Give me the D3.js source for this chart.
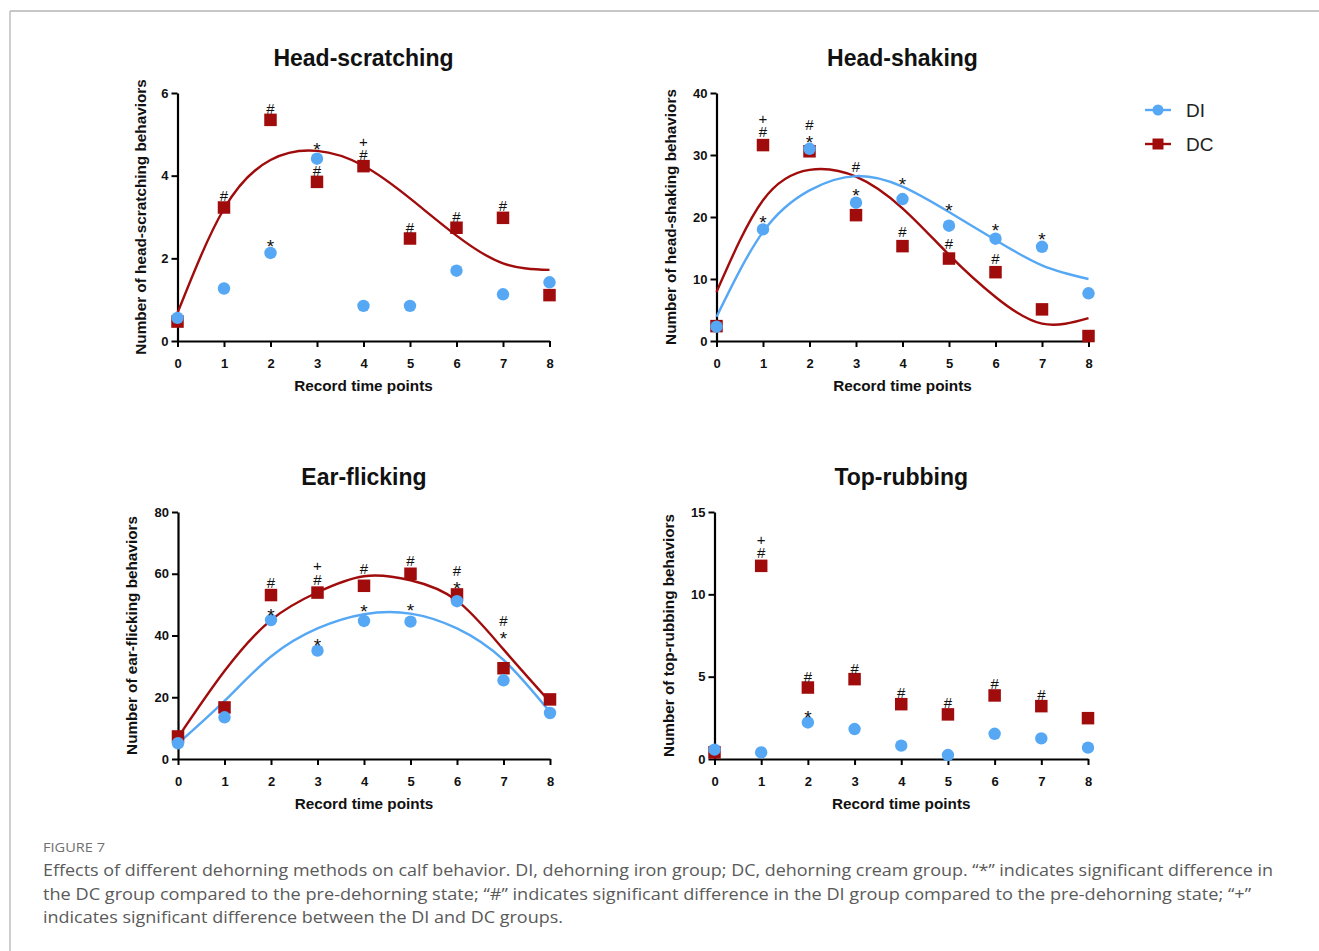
<!DOCTYPE html>
<html>
<head>
<meta charset="utf-8">
<script src="https://cdn.jsdelivr.net/npm/d3@7"></script>
<style>
  body { margin: 0; background: #fff; }
  svg { display: block; }
</style>
</head>
<body>
<div id="chart"></div>
<script>
// time points shared by all panels
const timePoints = [0, 1, 2, 3, 4, 5, 6, 7, 8];

// Head-scratching
const scratchDI = [0.56, 1.27, 2.13, 4.41, 0.85, 0.85, 1.70, 1.13, 1.42];
const scratchDC = [0.47, 3.23, 5.35, 3.85, 4.23, 2.48, 2.74, 2.98, 1.11];
const scratchFitDC = [0.68, 3.20, 4.38, 4.60, 4.24, 3.45, 2.55, 1.88, 1.72];
const scratchTicks = [0, 2, 4, 6];
// [time point, value of lowest symbol, symbols stacked bottom to top]
const scratchMarks = [
  [1, 3.50, "#"], [2, 5.62, "#"], [2, 2.38, "*"], [3, 4.73, "*"], [3, 4.11, "#"],
  [4, 4.49, "#+"], [5, 2.74, "#"], [6, 3.00, "#"], [7, 3.27, "#"]
];

// Head-shaking
const shakeDI = [2.3, 18.0, 31.0, 22.3, 22.9, 18.6, 16.5, 15.2, 7.7];
const shakeDC = [2.4, 31.6, 30.6, 20.3, 15.3, 13.3, 11.1, 5.1, 0.8];
const shakeFitDI = [3.9, 17.6, 24.3, 26.6, 24.9, 20.8, 16.3, 12.2, 10.0];
const shakeFitDC = [7.9, 22.7, 27.6, 26.5, 21.4, 13.9, 7.1, 2.8, 3.7];
const shakeTicks = [0, 10, 20, 30, 40];
const shakeMarks = [
  [1, 33.7, "#+"], [1, 19.8, "*"], [2, 32.6, "*#"], [3, 24.1, "*"], [3, 28.1, "#"],
  [4, 25.9, "*"], [4, 17.6, "#"], [5, 21.7, "*"], [5, 15.6, "#"], [6, 18.4, "*"],
  [6, 13.2, "#"], [7, 17.0, "*"]
];

// Ear-flicking
const earDI = [5.1, 13.5, 45.0, 35.1, 44.7, 44.5, 51.1, 25.5, 14.9];
const earDC = [7.3, 16.7, 53.1, 53.9, 56.1, 60.0, 53.3, 29.4, 19.3];
const earFitDI = [5.0, 18.8, 33.2, 42.3, 46.9, 47.1, 42.3, 32.1, 15.2];
const earFitDC = [7.0, 28.5, 45.0, 54.0, 59.2, 57.9, 51.3, 35.5, 18.5];
const earTicks = [0, 20, 40, 60, 80];
const earMarks = [
  [2, 57.1, "#"], [2, 47.7, "*"], [3, 58.1, "#+"], [3, 38.0, "*"],
  [4, 61.7, "#"], [4, 49.0, "*"], [5, 64.2, "#"], [5, 49.3, "*"],
  [6, 56.5, "*#"], [7, 40.2, "*#"]
];

// Top-rubbing
const rubDI = [0.57, 0.40, 2.22, 1.82, 0.81, 0.24, 1.53, 1.25, 0.69];
const rubDC = [0.40, 11.73, 4.34, 4.85, 3.33, 2.71, 3.86, 3.21, 2.48];
const rubTicks = [0, 5, 10, 15];
const rubMarks = [
  [1, 12.48, "#+"], [2, 5.01, "#"], [2, 2.79, "*"], [3, 5.47, "#"],
  [4, 4.00, "#"], [5, 3.39, "#"], [6, 4.54, "#"], [7, 3.90, "#"]
];

const groups = ["DI", "DC"];
const colorDI = "#56a8f5";
const colorDC = "#a00c0c";

const width = 1319, height = 951;

const svg = d3.select("#chart").append("svg")
  .attr("width", width)
  .attr("height", height);

// page frame lines
svg.append("line").attr("x1", 10).attr("x2", width).attr("y1", 11).attr("y2", 11)
  .attr("stroke", "#b4b4b4").attr("stroke-width", 1.3);
svg.append("line").attr("x1", 10).attr("x2", 10).attr("y1", 11).attr("y2", height)
  .attr("stroke", "#b4b4b4").attr("stroke-width", 1.3);

const panels = [
  {title: "Head-scratching", ylabel: "Number of head-scratching behaviors",
   di: scratchDI, dc: scratchDC, fitDI: null, fitDC: scratchFitDC, ticks: scratchTicks, marks: scratchMarks,
   left: 177.5, right: 549.5, top: 93, bottom: 341, labelGap: 37},
  {title: "Head-shaking", ylabel: "Number of head-shaking behaviors",
   di: shakeDI, dc: shakeDC, fitDI: shakeFitDI, fitDC: shakeFitDC, ticks: shakeTicks, marks: shakeMarks,
   left: 716.5, right: 1088.5, top: 93, bottom: 341, labelGap: 46},
  {title: "Ear-flicking", ylabel: "Number of ear-flicking behaviors",
   di: earDI, dc: earDC, fitDI: earFitDI, fitDC: earFitDC, ticks: earTicks, marks: earMarks,
   left: 178, right: 550, top: 512, bottom: 759, labelGap: 46},
  {title: "Top-rubbing", ylabel: "Number of top-rubbing behaviors",
   di: rubDI, dc: rubDC, fitDI: null, fitDC: null, ticks: rubTicks, marks: rubMarks,
   left: 714.5, right: 1088, top: 512, bottom: 759, labelGap: 46}
];

const font = "'Liberation Sans', Arial, sans-serif";

// vertical offsets so each glyph is centred on its value
const glyphShift = {"*": 10.5, "#": 5, "+": 5};
const glyphSize = {"*": "19px", "#": "15px", "+": "15px"};
const stackStep = 13.5;

panels.forEach(p => {
  const x = d3.scaleLinear().domain([0, 8]).range([p.left, p.right]);
  const y = d3.scaleLinear().domain([0, d3.max(p.ticks)]).range([p.bottom, p.top]);
  const g = svg.append("g");

  // title
  g.append("text")
    .attr("x", (p.left + p.right) / 2)
    .attr("y", p.top - 27)
    .attr("text-anchor", "middle")
    .style("font-family", font)
    .style("font-weight", "bold")
    .style("font-size", "23px")
    .style("fill", "#111")
    .text(p.title);

  // axes
  const xAxis = g.append("g")
    .attr("transform", `translate(0,${p.bottom})`)
    .call(d3.axisBottom(x).tickValues(timePoints).tickFormat(d3.format("d")).tickSize(6).tickSizeOuter(0));
  const yAxis = g.append("g")
    .attr("transform", `translate(${p.left},0)`)
    .call(d3.axisLeft(y).tickValues(p.ticks).tickFormat(d3.format("d")).tickSize(6).tickSizeOuter(0));

  [xAxis, yAxis].forEach(a => {
    a.select(".domain").attr("stroke", "#000").attr("stroke-width", 2.2);
    a.selectAll(".tick line").attr("stroke", "#000").attr("stroke-width", 2);
    a.selectAll(".tick text")
      .style("font-family", font)
      .style("font-weight", "bold")
      .style("font-size", "13px")
      .style("fill", "#111");
  });
  xAxis.selectAll(".tick text").attr("dy", "1.4em");
  yAxis.selectAll(".tick text").attr("x", -9);

  // axis labels
  g.append("text")
    .attr("x", (p.left + p.right) / 2)
    .attr("y", p.bottom + 50)
    .attr("text-anchor", "middle")
    .style("font-family", font)
    .style("font-weight", "bold")
    .style("font-size", "15.3px")
    .style("fill", "#111")
    .text("Record time points");

  g.append("text")
    .attr("transform", `translate(${p.left - p.labelGap},${(p.top + p.bottom) / 2}) rotate(-90)`)
    .attr("text-anchor", "middle")
    .attr("dy", "0.35em")
    .style("font-family", font)
    .style("font-weight", "bold")
    .style("font-size", "15.3px")
    .style("fill", "#111")
    .text(p.ylabel);

  // fitted curves
  const line = d3.line()
    .x((d, i) => x(timePoints[i]))
    .y(d => y(d))
    .curve(d3.curveNatural);

  if (p.fitDC) {
    g.append("path").datum(p.fitDC)
      .attr("d", line).attr("fill", "none")
      .attr("stroke", colorDC).attr("stroke-width", 2.4);
  }
  if (p.fitDI) {
    g.append("path").datum(p.fitDI)
      .attr("d", line).attr("fill", "none")
      .attr("stroke", colorDI).attr("stroke-width", 2.4);
  }

  // DC squares
  const sq = 12.5;
  g.selectAll(".dc").data(p.dc).enter().append("rect")
    .attr("x", (d, i) => x(timePoints[i]) - sq / 2)
    .attr("y", d => y(d) - sq / 2)
    .attr("width", sq).attr("height", sq)
    .attr("fill", colorDC);

  // DI circles
  g.selectAll(".di").data(p.di).enter().append("circle")
    .attr("cx", (d, i) => x(timePoints[i]))
    .attr("cy", d => y(d))
    .attr("r", 6.2)
    .attr("fill", colorDI);

  // significance marks, stacked upward
  p.marks.forEach(m => {
    const t = g.append("text")
      .attr("text-anchor", "middle")
      .style("font-family", font)
      .style("fill", "#111");
    m[2].split("").forEach((s, k) => {
      t.append("tspan")
        .attr("x", x(m[0]))
        .attr("y", y(m[1]) - k * stackStep + glyphShift[s])
        .style("font-size", glyphSize[s])
        .text(s);
    });
  });
});

// legend
const legend = svg.append("g");
groups.forEach((name, i) => {
  const ly = 110 + i * 34;
  const c = name === "DI" ? colorDI : colorDC;
  legend.append("line").attr("x1", 1145).attr("x2", 1171).attr("y1", ly).attr("y2", ly)
    .attr("stroke", c).attr("stroke-width", 2.4);
  if (name === "DI") {
    legend.append("circle").attr("cx", 1158).attr("cy", ly).attr("r", 5.5).attr("fill", c);
  } else {
    legend.append("rect").attr("x", 1152.5).attr("y", ly - 5.5).attr("width", 11).attr("height", 11).attr("fill", c);
  }
  legend.append("text")
    .attr("x", 1186).attr("y", ly).attr("dy", "0.36em")
    .style("font-family", font)
    .style("font-size", "19px")
    .style("fill", "#222")
    .text(name);
});

// caption
const capFont = "'Open Sans', 'Noto Sans', sans-serif";
svg.append("text")
  .attr("x", 43).attr("y", 852)
  .attr("textLength", 62)
  .attr("lengthAdjust", "spacingAndGlyphs")
  .style("font-family", capFont)
  .style("font-size", "13.5px")
  .style("fill", "#707070")
  .text("FIGURE 7");

const captionLines = [
  "Effects of different dehorning methods on calf behavior. DI, dehorning iron group; DC, dehorning cream group. \u201c*\u201d indicates significant difference in",
  "the DC group compared to the pre-dehorning state; \u201c#\u201d indicates significant difference in the DI group compared to the pre-dehorning state; \u201c+\u201d",
  "indicates significant difference between the DI and DC groups."
];
const captionWidths = [1230, 1208, 520];
captionLines.forEach((t, i) => {
  svg.append("text")
    .attr("x", 43).attr("y", 876 + i * 23.5)
    .attr("textLength", captionWidths[i])
    .attr("lengthAdjust", "spacingAndGlyphs")
    .style("font-family", capFont)
    .style("font-size", "16.5px")
    .style("fill", "#5a5a5a")
    .text(t);
});
</script>
</body>
</html>
